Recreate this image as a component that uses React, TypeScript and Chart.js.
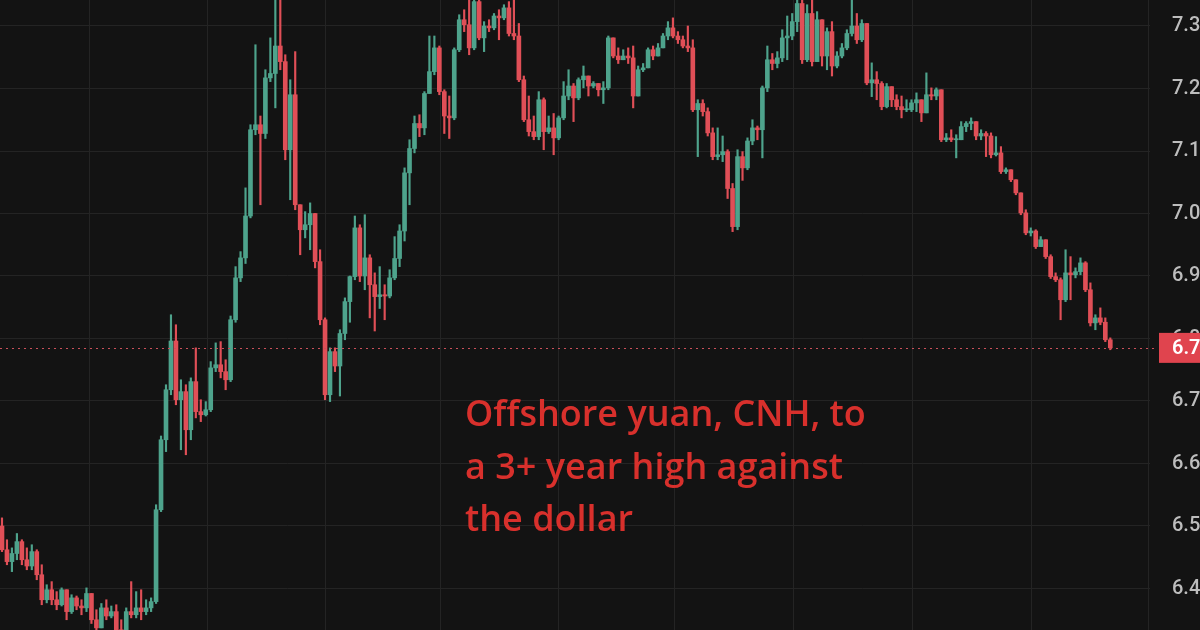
import React, { useEffect, useRef } from "react";
import { Chart, registerables } from "chart.js";
Chart.register(...registerables);

// USD/CNH candles (open of each candle = previous close)
const firstOpen = 6.5;
const closes = [
  6.462, 6.443, 6.456, 6.475, 6.446, 6.436, 6.459, 6.422, 6.382, 6.398,
  6.382, 6.374, 6.398, 6.363, 6.385, 6.372, 6.369, 6.392, 6.35, 6.337,
  6.369, 6.356, 6.363, 6.334, 6.331, 6.363, 6.358, 6.369, 6.363, 6.369,
  6.379, 6.526, 6.638, 6.718, 6.796, 6.702, 6.715, 6.654, 6.731, 6.683,
  6.678, 6.686, 6.753, 6.758, 6.747, 6.734, 6.83, 6.897, 6.929, 6.996,
  7.134, 7.142, 7.128, 7.217, 7.224, 7.268, 7.243, 7.102, 7.19, 7.014,
  6.974, 6.982, 7.0, 6.923, 6.83, 6.71, 6.779, 6.756, 6.808, 6.859,
  6.899, 6.977, 6.9, 6.929, 6.886, 6.867, 6.87, 6.868, 6.897, 6.928,
  6.972, 7.065, 7.104, 7.144, 7.137, 7.192, 7.227, 7.265, 7.195, 7.156,
  7.153, 7.262, 7.31, 7.302, 7.265, 7.339, 7.281, 7.3, 7.297, 7.316,
  7.313, 7.329, 7.288, 7.284, 7.214, 7.15, 7.131, 7.123, 7.182, 7.131,
  7.137, 7.121, 7.153, 7.188, 7.204, 7.185, 7.214, 7.22, 7.204, 7.208,
  7.198, 7.201, 7.281, 7.252, 7.246, 7.252, 7.249, 7.188, 7.23, 7.233,
  7.262, 7.252, 7.265, 7.284, 7.297, 7.284, 7.278, 7.268, 7.265, 7.166,
  7.176, 7.163, 7.129, 7.091, 7.094, 7.099, 7.04, 6.979, 7.091, 7.073,
  7.116, 7.137, 7.134, 7.201, 7.246, 7.24, 7.249, 7.281, 7.284, 7.307,
  7.336, 7.246, 7.32, 7.243, 7.31, 7.252, 7.291, 7.236, 7.252, 7.265,
  7.288, 7.3, 7.278, 7.304, 7.209, 7.214, 7.208, 7.171, 7.203, 7.182,
  7.171, 7.166, 7.166, 7.177, 7.182, 7.161, 7.19, 7.188, 7.198, 7.118,
  7.121, 7.118, 7.118, 7.139, 7.144, 7.147, 7.124, 7.128, 7.124, 7.094,
  7.097, 7.067, 7.07, 7.054, 7.033, 7.001, 6.969, 6.972, 6.947, 6.958,
  6.931, 6.899, 6.894, 6.862, 6.905, 6.902, 6.907, 6.921, 6.878, 6.825,
  6.833, 6.826, 6.798, 6.785,
];
const highs = [
  6.513, 6.478, 6.465, 6.488, 6.478, 6.465, 6.47, 6.462, 6.438, 6.406,
  6.411, 6.395, 6.401, 6.395, 6.39, 6.388, 6.382, 6.401, 6.39, 6.366,
  6.376, 6.382, 6.372, 6.374, 6.35, 6.369, 6.411, 6.395, 6.398, 6.382,
  6.385, 6.534, 6.644, 6.726, 6.838, 6.822, 6.734, 6.726, 6.737, 6.785,
  6.702, 6.699, 6.763, 6.793, 6.795, 6.766, 6.836, 6.915, 6.939, 7.041,
  7.142, 7.27, 7.156, 7.23, 7.281, 7.35, 7.35, 7.254, 7.214, 7.259,
  7.014, 7.003, 7.017, 7.0, 6.942, 6.833, 6.785, 6.785, 6.814, 6.865,
  6.9, 6.996, 6.982, 6.998, 6.934, 6.905, 6.915, 6.886, 6.91, 6.963,
  6.982, 7.073, 7.118, 7.156, 7.158, 7.195, 7.284, 7.284, 7.268, 7.198,
  7.188, 7.265, 7.318, 7.326, 7.345, 7.347, 7.347, 7.307, 7.31, 7.32,
  7.326, 7.334, 7.339, 7.342, 7.304, 7.22, 7.188, 7.156, 7.195, 7.185,
  7.156, 7.16, 7.156, 7.211, 7.23, 7.208, 7.217, 7.236, 7.217, 7.211,
  7.208, 7.211, 7.284, 7.281, 7.265, 7.262, 7.265, 7.268, 7.236, 7.24,
  7.265, 7.268, 7.272, 7.288, 7.307, 7.313, 7.291, 7.284, 7.3, 7.278,
  7.182, 7.182, 7.169, 7.137, 7.137, 7.124, 7.102, 7.048, 7.102, 7.099,
  7.121, 7.15, 7.14, 7.204, 7.268, 7.256, 7.259, 7.294, 7.316, 7.32,
  7.348, 7.347, 7.334, 7.347, 7.323, 7.307, 7.297, 7.307, 7.259, 7.272,
  7.294, 7.345, 7.32, 7.31, 7.302, 7.241, 7.227, 7.211, 7.208, 7.198,
  7.19, 7.188, 7.182, 7.182, 7.193, 7.182, 7.225, 7.201, 7.201, 7.195,
  7.128, 7.134, 7.126, 7.147, 7.147, 7.153, 7.144, 7.134, 7.131, 7.129,
  7.123, 7.107, 7.073, 7.07, 7.054, 7.033, 7.006, 6.977, 6.974, 6.963,
  6.958, 6.934, 6.905, 6.897, 6.942, 6.931, 6.913, 6.929, 6.923, 6.889,
  6.838, 6.849, 6.833, 6.801,
];
const lows = [
  6.459, 6.438, 6.427, 6.446, 6.438, 6.43, 6.43, 6.414, 6.374, 6.377,
  6.374, 6.366, 6.372, 6.35, 6.36, 6.366, 6.358, 6.363, 6.344, 6.331,
  6.337, 6.35, 6.353, 6.326, 6.318, 6.324, 6.353, 6.353, 6.35, 6.358,
  6.363, 6.376, 6.523, 6.619, 6.71, 6.694, 6.622, 6.614, 6.638, 6.673,
  6.667, 6.676, 6.683, 6.747, 6.737, 6.718, 6.731, 6.826, 6.891, 6.92,
  6.993, 7.126, 7.014, 7.12, 7.211, 7.169, 7.23, 7.086, 7.022, 7.006,
  6.934, 6.961, 6.942, 6.913, 6.822, 6.702, 6.699, 6.747, 6.708, 6.798,
  6.826, 6.894, 6.891, 6.878, 6.833, 6.812, 6.848, 6.83, 6.865, 6.894,
  6.915, 6.956, 7.014, 7.097, 7.123, 7.126, 7.192, 7.222, 7.19, 7.128,
  7.12, 7.15, 7.259, 7.291, 7.254, 7.262, 7.278, 7.259, 7.291, 7.294,
  7.278, 7.31, 7.284, 7.278, 7.211, 7.147, 7.124, 7.118, 7.118, 7.102,
  7.128, 7.094, 7.118, 7.15, 7.182, 7.147, 7.182, 7.201, 7.188, 7.201,
  7.188, 7.176, 7.198, 7.249, 7.24, 7.249, 7.24, 7.169, 7.188, 7.227,
  7.233, 7.246, 7.256, 7.268, 7.278, 7.281, 7.272, 7.265, 7.259, 7.163,
  7.091, 7.156, 7.124, 7.086, 7.086, 7.083, 7.024, 6.971, 6.974, 7.053,
  7.07, 7.11, 7.118, 7.089, 7.195, 7.23, 7.233, 7.243, 7.246, 7.278,
  7.291, 7.24, 7.243, 7.236, 7.243, 7.236, 7.23, 7.22, 7.233, 7.249,
  7.262, 7.284, 7.272, 7.275, 7.206, 7.187, 7.182, 7.166, 7.169, 7.171,
  7.166, 7.153, 7.163, 7.163, 7.163, 7.147, 7.171, 7.182, 7.182, 7.115,
  7.115, 7.115, 7.089, 7.118, 7.131, 7.134, 7.118, 7.118, 7.091, 7.089,
  7.092, 7.064, 7.064, 7.051, 7.03, 6.998, 6.966, 6.964, 6.944, 6.947,
  6.928, 6.896, 6.891, 6.83, 6.859, 6.862, 6.897, 6.902, 6.875, 6.82,
  6.814, 6.822, 6.795, 6.782,
];

const yTicks = [6.4, 6.5, 6.6, 6.7, 6.8, 6.9, 7.0, 7.1, 7.2, 7.3];
const xGridAt = [17.7, 41.3, 65.0, 88.3, 111.9, 135.4, 159.2, 183.3, 207.2, 230.6];
const annotationLines = ["Offshore yuan, CNH, to", "a 3+ year high against", "the dollar"];

const UP = "#4ea38c";
const DOWN = "#e04f57";
const BG = "#131313";
const GRID = "#242424";

export default function App() {
  const ref = useRef<HTMLCanvasElement | null>(null);

  useEffect(() => {
    if (!ref.current) return;
    const opens = closes.map((c, i) => (i === 0 ? firstOpen : closes[i - 1]));
    const colors = closes.map((c, i) => (c >= opens[i] ? UP : DOWN));
    const bodies = closes.map((c, i) => ({ x: i, y: [opens[i], c] }));
    const wicks = closes.map((c, i) => ({
      x: i,
      y: [Math.min(lows[i], opens[i], c), Math.max(highs[i], opens[i], c)],
    }));
    const last = closes[closes.length - 1];

    const overlay = {
      id: "overlay",
      beforeDraw(chart: any) {
        const { ctx, width, height } = chart;
        ctx.save();
        ctx.fillStyle = BG;
        ctx.fillRect(0, 0, width, height);
        ctx.restore();
      },
      afterDraw(chart: any) {
        const { ctx, chartArea } = chart;
        const yS = chart.scales.y;
        const yp = yS.getPixelForValue(last);
        ctx.save();
        // dotted last-price line
        ctx.strokeStyle = "#c9505a";
        ctx.lineWidth = 1;
        ctx.setLineDash([2, 4]);
        ctx.beginPath();
        ctx.moveTo(chartArea.left, Math.round(yp) + 0.5);
        ctx.lineTo(chartArea.right + 5, Math.round(yp) + 0.5);
        ctx.stroke();
        ctx.setLineDash([]);
        // price badge
        ctx.fillStyle = "#e0444e";
        ctx.fillRect(1159, yp - 15, 60, 30);
        ctx.fillStyle = "#ffffff";
        ctx.font = "600 20px Roboto";
        ctx.textBaseline = "middle";
        ctx.textAlign = "left";
        ctx.fillText(last.toFixed(4), 1172, yp + 1);
        // annotation
        ctx.fillStyle = "#d8302c";
        ctx.font = "600 36px 'Open Sans'";
        ctx.textBaseline = "alphabetic";
        annotationLines.forEach((t, k) => {
          ctx.fillText(t, 465, 426 + k * 52.5);
        });
        ctx.restore();
      },
    };

    const chart = new Chart(ref.current, {
      type: "bar",
      data: {
        datasets: [
          {
            label: "body",
            data: bodies as any,
            backgroundColor: colors,
            barThickness: 4,
            minBarLength: 1,
            grouped: false,
            order: 0,
          } as any,
          {
            label: "wick",
            data: wicks as any,
            backgroundColor: colors,
            barThickness: 1.5,
            grouped: false,
            order: 1,
          } as any,
        ],
      },
      plugins: [overlay],
      options: {
        animation: false,
        responsive: false,
        maintainAspectRatio: false,
        layout: { padding: 0 },
        plugins: { legend: { display: false }, tooltip: { enabled: false } },
        scales: {
          x: {
            type: "linear",
            min: -0.4,
            max: 230.99,
            offset: false,
            grid: { color: GRID, lineWidth: 1, drawTicks: false, offset: false },
            border: { display: false },
            ticks: { display: false },
            afterBuildTicks: (s: any) => {
              s.ticks = xGridAt.map((v) => ({ value: v }));
            },
            afterFit: (s: any) => {
              s.height = 0;
              s.paddingLeft = 0;
              s.paddingRight = 0;
            },
          },
          y: {
            type: "linear",
            position: "right",
            min: 6.3336,
            max: 7.3416,
            grid: { color: GRID, lineWidth: 1, drawTicks: false },
            border: { display: false },
            ticks: {
              padding: 22,
              color: "#bdbdbd",
              font: { family: "Roboto", size: 20, weight: "500" as any },
              callback: (v: any) => Number(v).toFixed(4),
            },
            afterBuildTicks: (s: any) => {
              s.ticks = yTicks.map((v) => ({ value: v }));
            },
            afterFit: (s: any) => {
              s.width = 50;
              s.paddingTop = 0;
              s.paddingBottom = 0;
            },
          },
        },
      } as any,
    });
    return () => chart.destroy();
  }, []);

  return (
    <div
      style={{
        position: "fixed",
        left: 0,
        top: 0,
        width: 1200,
        height: 630,
        background: BG,
        overflow: "hidden",
      }}
    >
      <canvas ref={ref} width={1200} height={630} style={{ display: "block" }} />
    </div>
  );
}
